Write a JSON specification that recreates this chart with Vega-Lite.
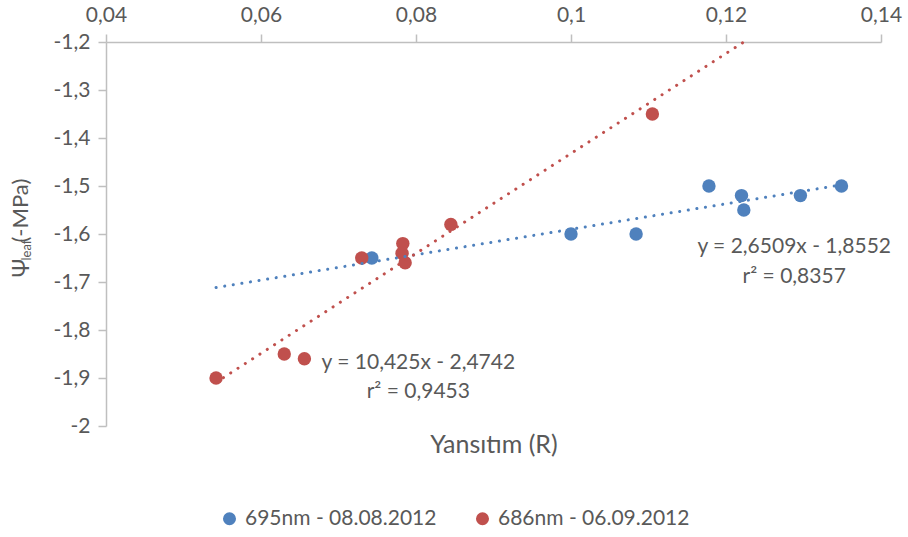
{
  "$schema": "https://vega.github.io/schema/vega-lite/v6.json",
  "width": 775,
  "height": 384,
  "autosize": {"type": "none"},
  "padding": {"left": 106, "top": 42, "right": 27, "bottom": 111},
  "background": "white",
  "config": {"view": {"stroke": null}, "font": "Lato", "axis": {"grid": false}},
  "datasets": {
    "points": [
      {"series": "695nm - 08.08.2012", "R": 0.0743, "psi": -1.65},
      {"series": "695nm - 08.08.2012", "R": 0.1, "psi": -1.6},
      {"series": "695nm - 08.08.2012", "R": 0.1084, "psi": -1.6},
      {"series": "695nm - 08.08.2012", "R": 0.1178, "psi": -1.5},
      {"series": "695nm - 08.08.2012", "R": 0.122, "psi": -1.52},
      {"series": "695nm - 08.08.2012", "R": 0.1223, "psi": -1.55},
      {"series": "695nm - 08.08.2012", "R": 0.1296, "psi": -1.52},
      {"series": "695nm - 08.08.2012", "R": 0.1349, "psi": -1.5},
      {"series": "686nm - 06.09.2012", "R": 0.0542, "psi": -1.9},
      {"series": "686nm - 06.09.2012", "R": 0.063, "psi": -1.85},
      {"series": "686nm - 06.09.2012", "R": 0.0656, "psi": -1.86},
      {"series": "686nm - 06.09.2012", "R": 0.073, "psi": -1.65},
      {"series": "686nm - 06.09.2012", "R": 0.0782, "psi": -1.64},
      {"series": "686nm - 06.09.2012", "R": 0.0783, "psi": -1.62},
      {"series": "686nm - 06.09.2012", "R": 0.0786, "psi": -1.66},
      {"series": "686nm - 06.09.2012", "R": 0.0845, "psi": -1.58},
      {"series": "686nm - 06.09.2012", "R": 0.1105, "psi": -1.35}
    ],
    "trend": [
      {"series": "695nm - 08.08.2012", "R": 0.0542, "psi": -1.7115},
      {"series": "695nm - 08.08.2012", "R": 0.1349, "psi": -1.4976},
      {"series": "686nm - 06.09.2012", "R": 0.0542, "psi": -1.9092},
      {"series": "686nm - 06.09.2012", "R": 0.1223, "psi": -1.2}
    ],
    "notes": [
      {"R": 0.1288, "psi": -1.6396, "label": "y = 2,6509x - 1,8552"},
      {"R": 0.1288, "psi": -1.7015, "label": "r² = 0,8357"},
      {"R": 0.0803, "psi": -1.8812, "label": "y = 10,425x - 2,4742"},
      {"R": 0.0803, "psi": -1.941, "label": "r² = 0,9453"}
    ]
  },
  "layer": [
    {
      "data": {"name": "points"},
      "mark": {"type": "circle", "size": 180, "opacity": 1},
      "encoding": {
        "x": {
          "field": "R", "type": "quantitative",
          "scale": {"domain": [0.04, 0.14], "nice": false, "zero": false},
          "axis": {
            "orient": "top", "title": null,
            "values": [0.04, 0.06, 0.08, 0.1, 0.12, 0.14],
            "labelExpr": "replace(toString(datum.value), '.', ',')",
            "labelFlush": false, "labelOverlap": false,
            "domainColor": "#BFBFBF", "domainWidth": 1.5,
            "tickColor": "#BFBFBF", "tickWidth": 1.5, "tickSize": 8,
            "labelPadding": 9, "labelFontSize": 21, "labelColor": "#595959", "labelFont": "Lato"
          }
        },
        "y": {
          "field": "psi", "type": "quantitative",
          "scale": {"domain": [-2, -1.2], "nice": false, "zero": false},
          "axis": {
            "orient": "left",
            "values": [-2, -1.9, -1.8, -1.7, -1.6, -1.5, -1.4, -1.3, -1.2],
            "labelExpr": "replace(toString(datum.value), '.', ',')",
            "labelFlush": false, "labelOverlap": false,
            "domainColor": "#BFBFBF", "domainWidth": 1.5,
            "tickColor": "#BFBFBF", "tickWidth": 1.5, "tickSize": 8,
            "labelPadding": 8, "labelFontSize": 21, "labelColor": "#595959", "labelFont": "Lato",
            "title": "Ψ", "titleFont": "Lato", "titleFontSize": 23, "titleFontWeight": "normal", "titleColor": "#595959",
            "titleAngle": -90, "titleAlign": "left", "titleBaseline": "alphabetic",
            "titleX": -78, "titleY": 235
          }
        },
        "color": {
          "field": "series", "type": "nominal",
          "scale": {"domain": ["695nm - 08.08.2012", "686nm - 06.09.2012"], "range": ["#4F81BD", "#C0504D"]},
          "legend": {
            "orient": "none", "legendX": 113, "legendY": 466, "direction": "horizontal",
            "title": null, "symbolType": "circle", "symbolSize": 170, "symbolStrokeWidth": 0, "symbolOpacity": 1,
            "labelFont": "Lato", "labelFontSize": 21, "labelColor": "#595959", "labelOffset": 5, "columnPadding": 35,
            "labelLimit": 0
          }
        }
      }
    },
    {
      "data": {"name": "trend"},
      "transform": [{"filter": "datum.series === '695nm - 08.08.2012'"}],
      "mark": {"type": "line", "color": "#4F81BD", "strokeWidth": 3, "strokeDash": [0.1, 8.6], "strokeCap": "round"},
      "encoding": {
        "x": {
          "field": "R", "type": "quantitative",
          "axis": {
            "orient": "bottom", "title": "Yansıtım (R)", "labels": false, "ticks": false, "domain": false,
            "titleFont": "Lato", "titleFontSize": 25, "titleFontWeight": "normal", "titleColor": "#595959",
            "titleBaseline": "alphabetic", "titleY": 26
          }
        },
        "y": {
          "field": "psi", "type": "quantitative",
          "axis": {
            "orient": "left", "labels": false, "ticks": false, "domain": false,
            "title": "leaf", "titleFont": "Lato", "titleFontSize": 13, "titleFontWeight": "normal", "titleColor": "#595959",
            "titleAngle": -90, "titleAlign": "left", "titleBaseline": "alphabetic",
            "titleX": -76, "titleY": 218
          }
        }
      }
    },
    {
      "data": {"name": "trend"},
      "transform": [{"filter": "datum.series === '686nm - 06.09.2012'"}],
      "mark": {"type": "line", "color": "#C0504D", "strokeWidth": 3, "strokeDash": [0.1, 8.6], "strokeCap": "round"},
      "encoding": {
        "x": {"field": "R", "type": "quantitative", "axis": null},
        "y": {
          "field": "psi", "type": "quantitative",
          "axis": {
            "orient": "left", "labels": false, "ticks": false, "domain": false,
            "title": "(-MPa)", "titleFont": "Lato", "titleFontSize": 22, "titleFontWeight": "normal", "titleColor": "#595959",
            "titleAngle": -90, "titleAlign": "left", "titleBaseline": "alphabetic",
            "titleX": -79, "titleY": 200
          }
        }
      }
    },
    {
      "data": {"name": "notes"},
      "mark": {"type": "text", "align": "center", "baseline": "alphabetic", "fontSize": 21, "color": "#595959", "font": "Lato"},
      "encoding": {
        "x": {"field": "R", "type": "quantitative", "axis": null},
        "y": {"field": "psi", "type": "quantitative", "axis": null},
        "text": {"field": "label"}
      }
    }
  ],
  "resolve": {"axis": {"x": "independent", "y": "independent"}}
}
